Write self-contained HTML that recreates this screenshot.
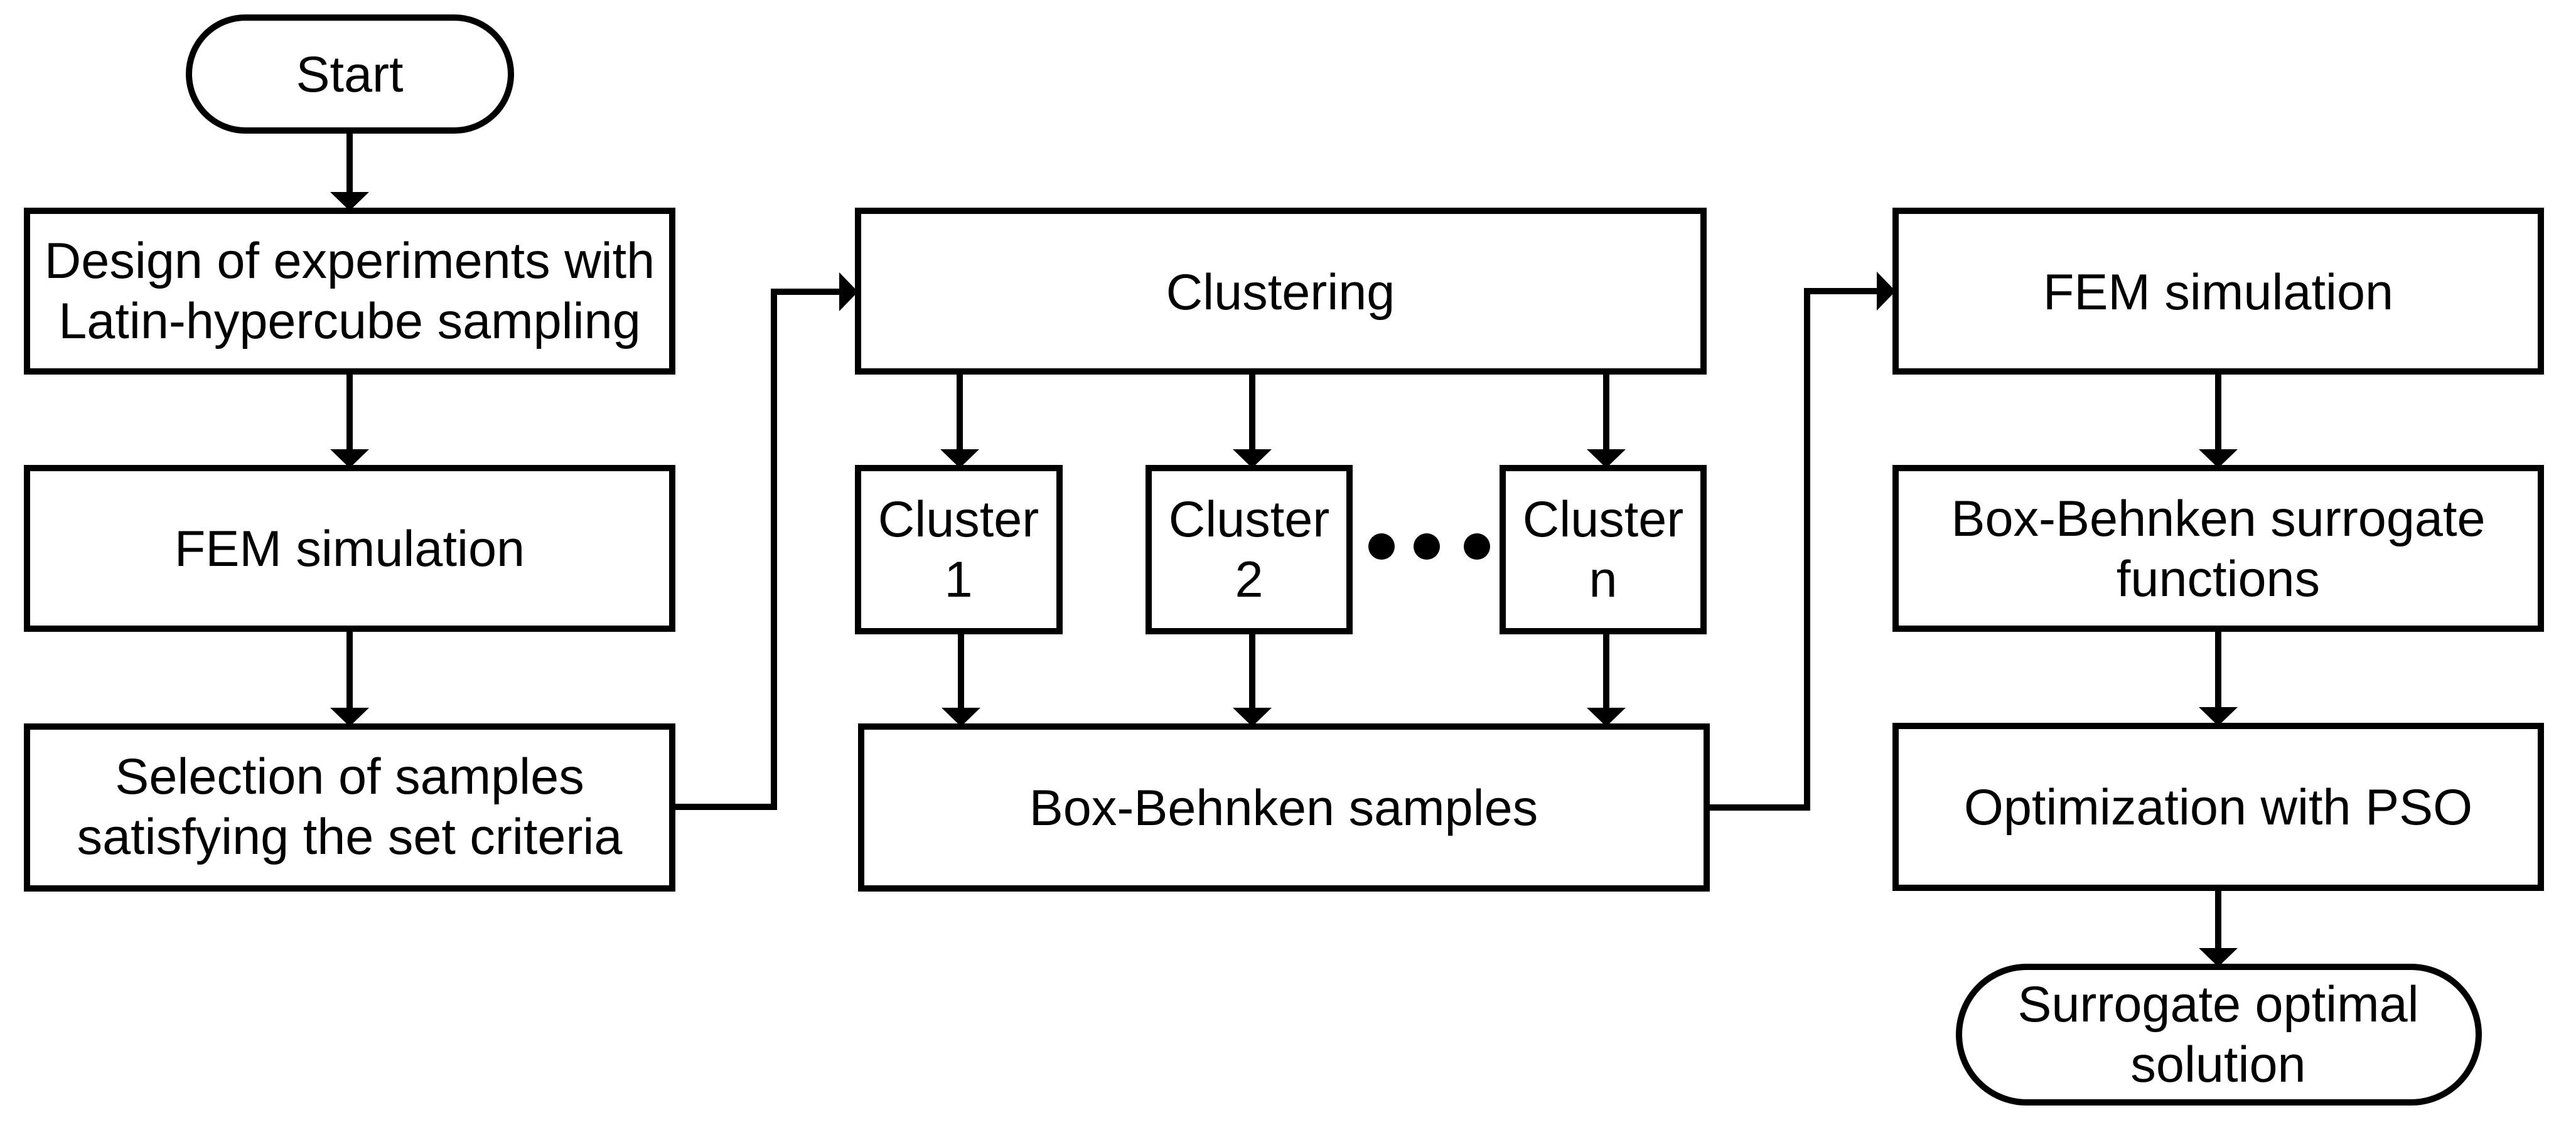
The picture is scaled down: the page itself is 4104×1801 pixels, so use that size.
<!DOCTYPE html>
<html><head><meta charset="utf-8"><style>
html,body{margin:0;padding:0;background:#fff;}
svg{display:block;}
text{font-family:"Liberation Sans",Arimo,Arial,Helvetica,sans-serif;font-size:81px;fill:#000;text-anchor:middle;}
</style></head><body>
<svg width="4104" height="1801" viewBox="0 0 4104 1801" xmlns="http://www.w3.org/2000/svg">
<g fill="none" stroke="#000" stroke-width="10" stroke-linejoin="miter">
<rect x="301" y="28" width="513" height="180" rx="90" ry="90"/>
<rect x="43" y="336" width="1028" height="256"/>
<rect x="43" y="746" width="1028" height="256"/>
<rect x="43" y="1158" width="1028" height="258"/>
<rect x="1367" y="336" width="1347" height="256"/>
<rect x="1367" y="746" width="321" height="260"/>
<rect x="1830" y="746" width="320" height="260"/>
<rect x="2394" y="746" width="320" height="260"/>
<rect x="1372" y="1158" width="1347" height="258"/>
<rect x="3020" y="336" width="1028" height="256"/>
<rect x="3020" y="746" width="1028" height="256"/>
<rect x="3020" y="1157" width="1028" height="258"/>
<rect x="3121" y="1541" width="828" height="216" rx="108" ry="108"/>
<line x1="557" y1="208" x2="557" y2="310"/>
<line x1="557" y1="592" x2="557" y2="720"/>
<line x1="557" y1="1002" x2="557" y2="1132"/>
<polyline points="1071,1286 1233,1286 1233,465 1340,465"/>
<line x1="1529" y1="592" x2="1529" y2="720"/>
<line x1="1995" y1="592" x2="1995" y2="720"/>
<line x1="2559" y1="592" x2="2559" y2="720"/>
<line x1="1531" y1="1006" x2="1531" y2="1132"/>
<line x1="1995" y1="1006" x2="1995" y2="1132"/>
<line x1="2559" y1="1006" x2="2559" y2="1132"/>
<polyline points="2719,1287 2879,1287 2879,464 2994,464"/>
<line x1="3534" y1="592" x2="3534" y2="720"/>
<line x1="3534" y1="1002" x2="3534" y2="1130"/>
<line x1="3534" y1="1415" x2="3534" y2="1515"/>
</g>
<g fill="#000">
<polygon points="526,306 588,306 557,336"/>
<polygon points="526,716 588,716 557,746"/>
<polygon points="526,1128 588,1128 557,1158"/>
<polygon points="1498,716 1560,716 1529,746"/>
<polygon points="1964,716 2026,716 1995,746"/>
<polygon points="2528,716 2590,716 2559,746"/>
<polygon points="1500,1128 1562,1128 1531,1158"/>
<polygon points="1964,1128 2026,1128 1995,1158"/>
<polygon points="2528,1128 2590,1128 2559,1158"/>
<polygon points="3503,716 3565,716 3534,746"/>
<polygon points="3503,1127 3565,1127 3534,1157"/>
<polygon points="3503,1511 3565,1511 3534,1541"/>
<polygon points="1337,434 1337,496 1367,465"/>
<polygon points="2990,433 2990,495 3020,464"/>
<circle cx="2201" cy="871" r="21"/>
<circle cx="2273" cy="871" r="21"/>
<circle cx="2353" cy="871" r="21"/>
</g>
<text x="557" y="146">Start</text>
<text x="557" y="443">Design of experiments with</text>
<text x="557" y="539">Latin-hypercube sampling</text>
<text x="557" y="902">FEM simulation</text>
<text x="557" y="1265">Selection of samples</text>
<text x="557" y="1361">satisfying the set criteria</text>
<text x="2040" y="493">Clustering</text>
<text x="1527" y="855">Cluster</text>
<text x="1527" y="951">1</text>
<text x="1990" y="855">Cluster</text>
<text x="1990" y="951">2</text>
<text x="2554" y="855">Cluster</text>
<text x="2554" y="951">n</text>
<text x="2045" y="1315">Box-Behnken samples</text>
<text x="3534" y="493">FEM simulation</text>
<text x="3534" y="854">Box-Behnken surrogate</text>
<text x="3534" y="950">functions</text>
<text x="3534" y="1314">Optimization with PSO</text>
<text x="3534" y="1628">Surrogate optimal</text>
<text x="3534" y="1724">solution</text>
</svg>
</body></html>
